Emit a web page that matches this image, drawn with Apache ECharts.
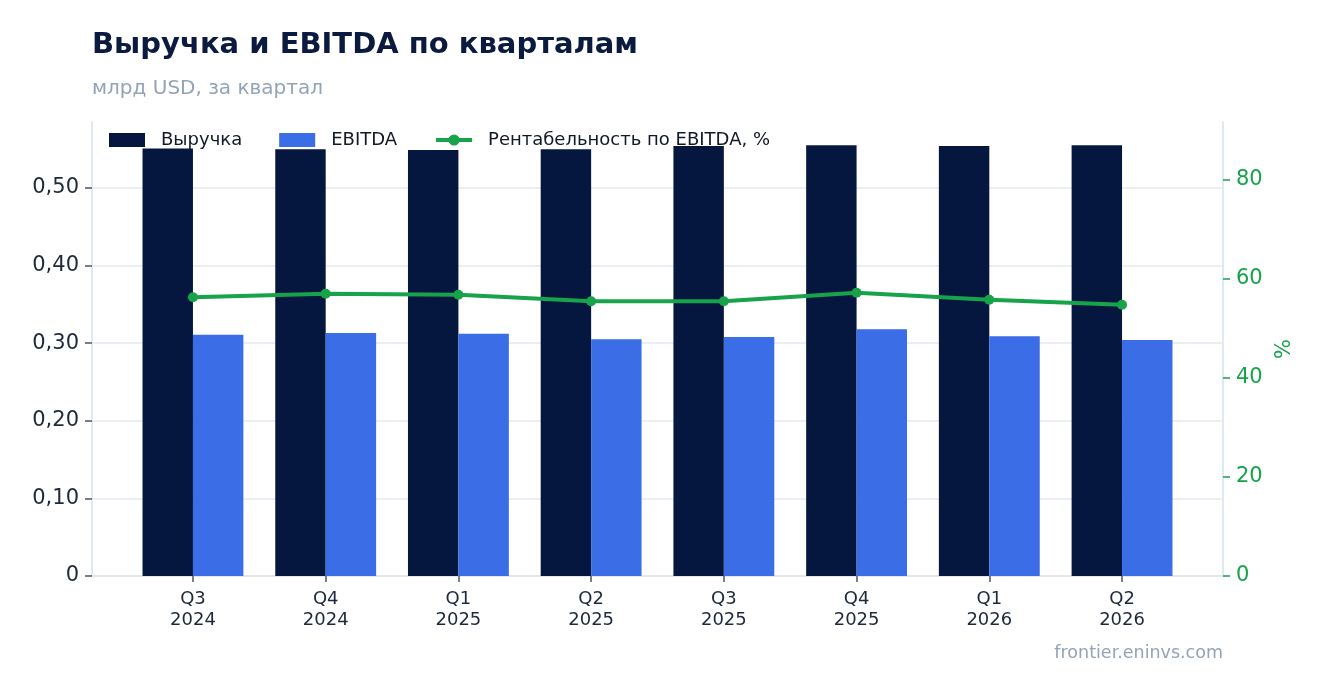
<!DOCTYPE html>
<html><head><meta charset="utf-8">
<script src="https://cdn.jsdelivr.net/npm/echarts@6/dist/echarts.min.js"></script>
<style>html,body{margin:0;padding:0;background:#fff}#c{width:1323px;height:693px}</style>
</head><body><div id="c"></div>
<script>
const categories = ['Q3\n2024','Q4\n2024','Q1\n2025','Q2\n2025','Q3\n2025','Q4\n2025','Q1\n2026','Q2\n2026'];
const revenue = [0.551, 0.550, 0.549, 0.550, 0.554, 0.555, 0.554, 0.555];
const ebitda = [0.311, 0.313, 0.312, 0.305, 0.308, 0.318, 0.309, 0.304];
const margin = [56.3, 57.0, 56.8, 55.5, 55.5, 57.2, 55.8, 54.8];
const leftTicks = [0, 0.1, 0.2, 0.3, 0.4, 0.5];
const rightTicks = [0, 20, 40, 60, 80];

const FONT = 'DejaVu Sans';
const LMAX = 0.585, RMAX = 91.7;
const chart = echarts.init(document.getElementById('c'), null, {renderer: 'canvas'});
const fmtL = v => v === 0 ? '0' : v.toFixed(2).replace('.', ',');
chart.setOption({
  animation: false,
  textStyle: {fontFamily: FONT},
  title: [
    {text: 'Выручка и EBITDA по кварталам', left: 87, top: 26,
     textStyle: {fontFamily: FONT, fontSize: 29, fontWeight: 'bold', color: '#0b1a3f'}},
    {text: 'млрд USD, за квартал', left: 87, top: 74,
     textStyle: {fontFamily: FONT, fontSize: 20, fontWeight: 'normal', color: '#94a3b8'}},
    {text: 'frontier.eninvs.com', right: 95, top: 639,
     textStyle: {fontFamily: FONT, fontSize: 17.5, fontWeight: 'normal', color: '#94a3b8'}}
  ],
  legend: {
    left: 104, top: 126, itemWidth: 36, itemHeight: 14, itemGap: 37,
    textStyle: {fontFamily: FONT, fontSize: 18, color: '#111827', padding: [0,0,0,11]},
    data: [
      {name: 'Выручка', icon: 'rect'},
      {name: 'EBITDA', icon: 'rect'},
      {name: 'Рентабельность по EBITDA, %', lineStyle: {width: 4}}
    ]
  },
  grid: [
    {left: 126.6, right: 134.6, top: 122, bottom: 117},
    {left: 92, right: 100, top: 122, bottom: 117}
  ],
  xAxis: [
    {type: 'category', gridIndex: 0, data: categories,
     axisLine: {show: false},
     axisTick: {show: true, alignWithLabel: true, length: 6, lineStyle: {color: '#4b5563', width: 1.5}},
     axisLabel: {fontFamily: FONT, fontSize: 18, color: '#1e293b', lineHeight: 21, margin: 13}},
    {type: 'value', gridIndex: 1, min: 0, max: 1,
     axisLine: {show: true, onZero: false, lineStyle: {color: '#e2e8f0', width: 2}},
     axisTick: {show: false}, axisLabel: {show: false}, splitLine: {show: false}}
  ],
  yAxis: [
    {type: 'value', gridIndex: 0, min: 0, max: LMAX, show: false, splitLine: {show: false}},
    {type: 'value', gridIndex: 0, min: 0, max: RMAX, show: false, splitLine: {show: false}},
    {type: 'value', gridIndex: 1, position: 'left', min: 0, max: LMAX, interval: 0.1,
     axisLine: {show: true, lineStyle: {color: '#e2e8f0', width: 2}},
     axisTick: {show: true, length: 7, customValues: leftTicks, lineStyle: {color: '#4b5563', width: 1.5}},
     axisLabel: {customValues: leftTicks, formatter: fmtL, fontFamily: FONT, fontSize: 21, color: '#1e293b', margin: 13, padding: [7,0,0,0]},
     splitLine: {show: true, lineStyle: {color: '#e5e9f0', width: 1.5}}},
    {type: 'value', gridIndex: 1, position: 'right', min: 0, max: RMAX, interval: 20,
     name: '%', nameLocation: 'middle', nameGap: 50, nameRotate: 90,
     nameTextStyle: {fontFamily: FONT, fontSize: 21, color: '#16a34a'},
     axisLine: {show: true, lineStyle: {color: '#e2e8f0', width: 2}},
     axisTick: {show: true, length: 7, customValues: rightTicks, lineStyle: {color: '#16a34a', width: 1.5}},
     axisLabel: {customValues: rightTicks, fontFamily: FONT, fontSize: 21, color: '#16a34a', margin: 13, padding: [7,0,0,0]},
     splitLine: {show: false}}
  ],
  series: [
    {name: 'Выручка', type: 'bar', xAxisIndex: 0, yAxisIndex: 0, data: revenue,
     barWidth: '38%', barGap: '0%', itemStyle: {color: '#06173f'}},
    {name: 'EBITDA', type: 'bar', xAxisIndex: 0, yAxisIndex: 0, data: ebitda,
     barWidth: '38%', barGap: '0%', itemStyle: {color: '#3b6de6'}},
    {name: 'Рентабельность по EBITDA, %', type: 'line', xAxisIndex: 0, yAxisIndex: 1, data: margin,
     symbol: 'circle', symbolSize: 10, z: 5,
     lineStyle: {color: '#16a34a', width: 4}, itemStyle: {color: '#16a34a'}}
  ]
});
</script>
</body></html>
